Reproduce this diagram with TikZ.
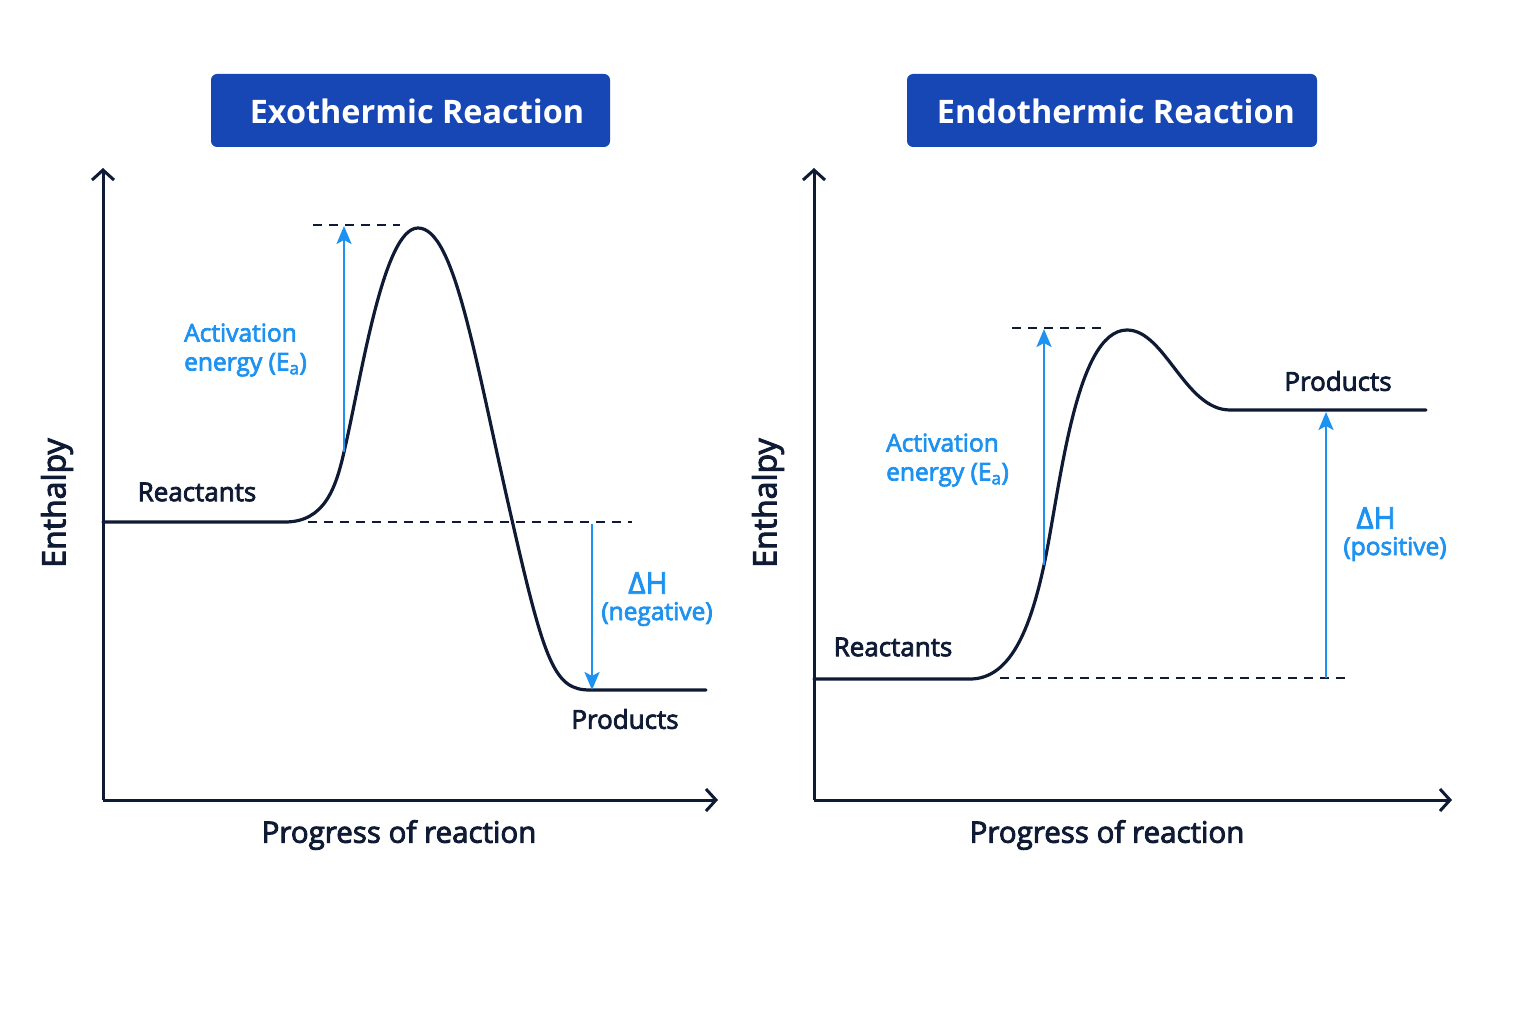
\documentclass[tikz,border=0pt]{standalone}
\usepackage{fontspec}
\setmainfont{Open Sans}
\newfontfamily\medfont{Open Sans}[FakeBold=3]
\usetikzlibrary{arrows.meta}
\definecolor{navy}{HTML}{0F1B35}
\definecolor{titleblue}{HTML}{1747B5}
\definecolor{ablue}{HTML}{1E92F0}
\tikzset{
  axisline/.style={navy, line width=3pt, -{Straight Barb[length=10pt,width=22pt]}},
  curveline/.style={navy, line width=3.2pt, line cap=round, line join=round},
  dashline/.style={navy, line width=2.2pt, dash pattern=on 9pt off 7pt},
  barrow/.style={ablue, line width=2.5pt, -{Stealth[length=18pt,width=15pt,inset=4pt]}},
  titlebox/.style={fill=titleblue, rounded corners=6pt, text=white,
    font=\bfseries\fontsize{32.4}{36}\selectfont, minimum height=73pt, inner sep=0pt},
  lab/.style={text=navy, font=\medfont\fontsize{26}{30}\selectfont, inner sep=0pt},
  axlab/.style={text=navy, font=\medfont\fontsize{29.5}{34}\selectfont, inner sep=0pt},
  enlab/.style={text=navy, font=\medfont\fontsize{32}{36}\selectfont, inner sep=0pt},
  blab/.style={text=ablue, font=\medfont\fontsize{24.5}{29}\selectfont, align=left, inner sep=0pt},
  dhlab/.style={text=ablue, font=\medfont\fontsize{30}{34}\selectfont, inner sep=0pt},
}
\begin{document}
\begin{tikzpicture}[x=1pt,y=-1pt]
\fill[white] (0,0) rectangle (1536,1024);
\useasboundingbox (0,0) rectangle (1536,1024);

% ===== Left panel: Exothermic =====
\node[titlebox, minimum width=399pt] (t1) at (410.5,110.5) {};
\node[text=white, font=\bfseries\fontsize{32.4}{36}\selectfont, inner sep=0pt] (t1txt) at (417,111) {Exothermic Reaction};

\coordinate (o1) at (103,800);
\coordinate (y1) at (103,168);
\coordinate (x1) at (718,800);
\draw[axisline] (o1) -- (y1);
\draw[axisline] (o1) -- (x1);

\coordinate (r1s) at (103,522);
\coordinate (r1e) at (285,522);
\coordinate (ea1foot) at (344,452);
\coordinate (pk1) at (418,228);
\coordinate (mid1) at (512,520);
\coordinate (p1s) at (590,690);
\coordinate (p1e) at (706,690);
\draw[curveline] (r1s) -- (r1e)
  .. controls (325,522) and (336,487) .. (ea1foot)
  .. controls (361,380) and (383,228) .. (pk1)
  .. controls (455,228) and (475,360) .. (mid1)
  .. controls (545,665) and (555,690) .. (p1s) -- (p1e);

\coordinate (d1a) at (313,225);
\coordinate (d1b) at (400,225);
\draw[dashline] (d1a) -- (d1b);
\coordinate (d2a) at (308,522);
\coordinate (d2b) at (632,522);
\draw[dashline] (d2a) -- (d2b);

\coordinate (ea1top) at (344,226);
\draw[barrow] (ea1foot) -- (ea1top);
\coordinate (dh1top) at (592,524);
\coordinate (dh1bot) at (592,690);
\draw[barrow] (dh1top) -- (dh1bot);

\node[blab, anchor=west] (ea1lab) at (184,350) {Activation\\energy (E\textsubscript{a})};
\node[dhlab] (dh1lab) at (648,583) {ΔH};
\node[blab] (dh1sub) at (657,614) {(negative)};
\node[lab] (re1) at (197,492) {Reactants};
\node[lab] (pr1) at (625,719) {Products};
\node[enlab, rotate=90] (en1) at (57,503) {Enthalpy};
\node[axlab] (pg1) at (399,835) {Progress of reaction};

% ===== Right panel: Endothermic =====
\node[titlebox, minimum width=410pt] (t2) at (1112,110.5) {};
\node[text=white, font=\bfseries\fontsize{32.4}{36}\selectfont, inner sep=0pt] (t2txt) at (1116,111) {Endothermic Reaction};

\coordinate (o2) at (814,800);
\coordinate (y2) at (814,168);
\coordinate (x2) at (1452,800);
\draw[axisline] (o2) -- (y2);
\draw[axisline] (o2) -- (x2);

\coordinate (r2s) at (814,679);
\coordinate (r2e) at (970,679);
\coordinate (ea2foot) at (1044,565);
\coordinate (pk2) at (1127,330);
\coordinate (p2s) at (1230,410);
\coordinate (p2e) at (1426,410);
\draw[curveline] (r2s) -- (r2e)
  .. controls (1010,679) and (1030,630) .. (ea2foot)
  .. controls (1060,490) and (1075,330) .. (pk2)
  .. controls (1165,330) and (1185,410) .. (p2s) -- (p2e);

\coordinate (d3a) at (1012,328);
\coordinate (d3b) at (1105,328);
\draw[dashline] (d3a) -- (d3b);
\coordinate (d4a) at (1000,678);
\coordinate (d4b) at (1352,678);
\draw[dashline] (d4a) -- (d4b);

\coordinate (ea2top) at (1044,329);
\draw[barrow] (ea2foot) -- (ea2top);
\coordinate (dh2bot) at (1326,678);
\coordinate (dh2top) at (1326,412);
\draw[barrow] (dh2bot) -- (dh2top);

\node[blab, anchor=west] (ea2lab) at (886,460) {Activation\\energy (E\textsubscript{a})};
\node[dhlab] (dh2lab) at (1376,518) {ΔH};
\node[blab] (dh2sub) at (1395,549) {(positive)};
\node[lab] (re2) at (893,647) {Reactants};
\node[lab] (pr2) at (1338,381) {Products};
\node[enlab, rotate=90] (en2) at (768,503) {Enthalpy};
\node[axlab] (pg2) at (1107,835) {Progress of reaction};
\end{tikzpicture}
\end{document}
